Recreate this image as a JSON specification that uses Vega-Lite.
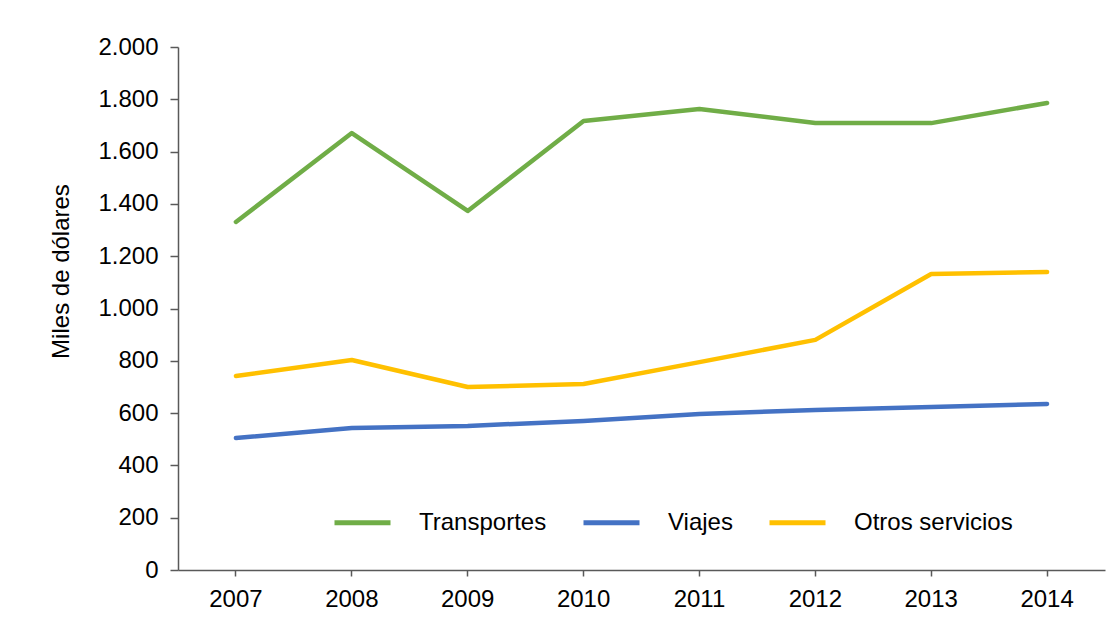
{
  "$schema": "https://vega.github.io/schema/vega-lite/v6.json",
  "width": 927,
  "height": 523,
  "autosize": {"type": "none"},
  "padding": {"left": 178, "top": 47, "right": 15, "bottom": 60},
  "background": "white",
  "config": {
    "locale": {"number": {"decimal": ",", "thousands": ".", "grouping": [3], "currency": ["", ""]}},
    "view": {"stroke": null},
    "font": "Liberation Sans",
    "axis": {"labelFont": "Liberation Sans", "titleFont": "Liberation Sans", "labelColor": "#000000", "titleColor": "#000000", "domainColor": "#595959", "tickColor": "#595959", "domainWidth": 1.5, "tickWidth": 1.5}
  },
  "data": {
    "values": [
      {"year": "2007", "serie": "Transportes", "value": 1331},
      {"year": "2008", "serie": "Transportes", "value": 1671},
      {"year": "2009", "serie": "Transportes", "value": 1373},
      {"year": "2010", "serie": "Transportes", "value": 1717},
      {"year": "2011", "serie": "Transportes", "value": 1763},
      {"year": "2012", "serie": "Transportes", "value": 1709},
      {"year": "2013", "serie": "Transportes", "value": 1709},
      {"year": "2014", "serie": "Transportes", "value": 1786},
      {"year": "2007", "serie": "Viajes", "value": 505},
      {"year": "2008", "serie": "Viajes", "value": 543},
      {"year": "2009", "serie": "Viajes", "value": 551},
      {"year": "2010", "serie": "Viajes", "value": 570},
      {"year": "2011", "serie": "Viajes", "value": 597},
      {"year": "2012", "serie": "Viajes", "value": 612},
      {"year": "2013", "serie": "Viajes", "value": 623},
      {"year": "2014", "serie": "Viajes", "value": 635},
      {"year": "2007", "serie": "Otros servicios", "value": 742},
      {"year": "2008", "serie": "Otros servicios", "value": 803},
      {"year": "2009", "serie": "Otros servicios", "value": 700},
      {"year": "2010", "serie": "Otros servicios", "value": 711},
      {"year": "2011", "serie": "Otros servicios", "value": 795},
      {"year": "2012", "serie": "Otros servicios", "value": 880},
      {"year": "2013", "serie": "Otros servicios", "value": 1132},
      {"year": "2014", "serie": "Otros servicios", "value": 1140}
    ]
  },
  "mark": {"type": "line", "strokeWidth": 4.5, "strokeCap": "round", "strokeJoin": "round"},
  "encoding": {
    "x": {
      "field": "year", "type": "ordinal",
      "scale": {"type": "band", "paddingInner": 0, "paddingOuter": 0},
      "axis": {"title": null, "labelAngle": 0, "labelFontSize": 24, "labelPadding": 11, "tickSize": 6, "bandPosition": 0.5, "ticks": true}
    },
    "y": {
      "field": "value", "type": "quantitative",
      "scale": {"domain": [0, 2000], "nice": false},
      "axis": {"title": "Miles de dólares", "titleFontSize": 24, "titleFontWeight": "normal", "titlePadding": 24, "titleY": 224, "labelFontSize": 24, "labelPadding": 12, "tickSize": 8, "values": [0, 200, 400, 600, 800, 1000, 1200, 1400, 1600, 1800, 2000], "format": ",d", "grid": false}
    },
    "color": {
      "field": "serie", "type": "nominal",
      "scale": {"domain": ["Transportes", "Viajes", "Otros servicios"], "range": ["#70AD47", "#4472C4", "#FFC000"]},
      "legend": {
        "title": null, "orient": "none", "direction": "horizontal",
        "legendX": 154, "legendY": 445,
        "symbolType": "stroke", "symbolSize": 3136, "symbolStrokeWidth": 5,
        "labelFontSize": 24, "labelFont": "Liberation Sans", "labelColor": "#000000",
        "labelOffset": 26, "columnPadding": 26
      }
    }
  }
}
